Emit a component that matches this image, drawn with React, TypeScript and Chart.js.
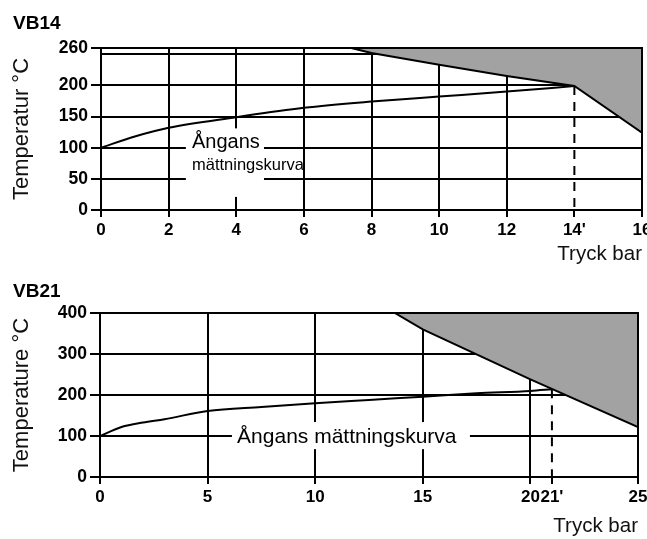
import React, { useEffect, useRef } from 'react';
import { Chart, registerables } from 'chart.js';

Chart.register(...registerables);

const FONT = "'Liberation Sans', Arial, Helvetica, sans-serif";

// ---------- VB14 data ----------
const vb14XTicks = [0, 2, 4, 6, 8, 10, 12, 14, 16];
const vb14XLabels = ['0', '2', '4', '6', '8', '10', '12', "14'", '16'];
const vb14YTicks = [0, 50, 100, 150, 200, 250, 260];
const vb14YLabels = ['0', '50', '100', '150', '200', '', '260'];
const vb14SatX = [0, 1, 2, 4, 6, 8, 10, 12, 14];
const vb14SatY = [100, 118, 132, 149, 164, 174, 182, 190, 199];
const vb14LimitX = [7.4, 8, 10, 12, 14, 16];
const vb14LimitY = [260, 252, 233, 215, 199, 124];
const vb14MarkerX = 14;
const vb14MarkerTop = 199;

// ---------- VB21 data ----------
const vb21XTicks = [0, 5, 10, 15, 20, 21, 25];
const vb21XLabels = ['0', '5', '10', '15', '20', "21'", '25'];
const vb21YTicks = [0, 100, 200, 300, 400];
const vb21YLabels = ['0', '100', '200', '300', '400'];
const vb21SatX = [0, 1, 2, 3, 5, 7.5, 10, 12.5, 15, 17.5, 20, 21];
const vb21SatY = [100, 122, 133, 141, 161, 171, 180, 188, 196, 204, 210, 214];
const vb21LimitX = [13.7, 15, 20, 25];
const vb21LimitY = [400, 360, 238, 122];
const vb21MarkerX = 21;
const vb21MarkerTop = 214;

type LabelLine = { text: string; x: number; y: number; font: string };
type PanelCfg = {
  panel: string;
  yTitle: string;
  xMax: number;
  yMax: number;
  xTicks: number[];
  xLabels: string[];
  yTicks: number[];
  yLabels: string[];
  satX: number[];
  satY: number[];
  limitX: number[];
  limitY: number[];
  markerX: number;
  markerTop: number;
  hiddenYTicks: number[];
  padTop: number;
  padRight: number;
  yAxisWidth: number;
  xAxisHeight: number;
  xTitlePadBottom: number;
  box: { x0: number; x1: number; y0: number; y1: number };
  lines: LabelLine[];
};

const zip = (xs: number[], ys: number[]) => xs.map((x, i) => ({ x, y: ys[i] }));

function makeChart(canvas: HTMLCanvasElement, cfg: PanelCfg) {
  const panelPlugin = {
    id: 'panelLabel',
    afterDraw(chart: any) {
      const ctx = chart.ctx;
      ctx.save();
      ctx.fillStyle = '#000';
      ctx.font = `bold 19px ${FONT}`;
      ctx.textAlign = 'left';
      ctx.textBaseline = 'alphabetic';
      ctx.fillText(cfg.panel, 13, 29);
      ctx.restore();
    },
  };
  const labelPlugin = {
    id: 'curveLabel',
    beforeDatasetsDraw(chart: any) {
      const { ctx, scales } = chart;
      const xs = scales.x;
      const ys = scales.y;
      ctx.save();
      const bx0 = xs.getPixelForValue(cfg.box.x0);
      const bx1 = xs.getPixelForValue(cfg.box.x1);
      const by0 = ys.getPixelForValue(cfg.box.y0);
      const by1 = ys.getPixelForValue(cfg.box.y1);
      ctx.fillStyle = '#fff';
      ctx.fillRect(bx0, by0, bx1 - bx0, by1 - by0);
      ctx.fillStyle = '#000';
      ctx.textAlign = 'left';
      ctx.textBaseline = 'alphabetic';
      for (const l of cfg.lines) {
        ctx.font = `${l.font} ${FONT}`;
        ctx.fillText(l.text, xs.getPixelForValue(l.x), ys.getPixelForValue(l.y));
      }
      ctx.restore();
    },
  };
  const framePlugin = {
    id: 'frame',
    afterDatasetsDraw(chart: any) {
      const { ctx, chartArea } = chart;
      ctx.save();
      ctx.strokeStyle = '#000';
      ctx.lineWidth = 2;
      ctx.strokeRect(chartArea.left, chartArea.top, chartArea.right - chartArea.left, chartArea.bottom - chartArea.top);
      ctx.restore();
    },
  };

  return new Chart(canvas, {
    type: 'line',
    data: {
      datasets: [
        {
          data: zip(cfg.satX, cfg.satY),
          borderColor: '#000',
          borderWidth: 2,
          pointRadius: 0,
          fill: false,
          cubicInterpolationMode: 'monotone',
        },
        {
          data: [
            { x: cfg.markerX, y: cfg.markerTop },
            { x: cfg.markerX, y: 0 },
          ],
          borderColor: '#000',
          borderWidth: 2,
          borderDash: [9, 7],
          pointRadius: 0,
          fill: false,
        },
        {
          data: zip(cfg.limitX, cfg.limitY),
          borderColor: '#000',
          borderWidth: 2,
          backgroundColor: '#a2a2a2',
          pointRadius: 0,
          fill: 'end',
        },
      ],
    },
    options: {
      responsive: false,
      animation: false,
      devicePixelRatio: 1,
      events: [],
      layout: { padding: { left: 0, top: cfg.padTop, right: cfg.padRight, bottom: 0 } },
      plugins: {
        legend: { display: false },
        tooltip: { enabled: false },
        title: { display: false },
      },
      scales: {
        x: {
          type: 'linear',
          min: 0,
          max: cfg.xMax,
          afterBuildTicks: (s: any) => {
            s.ticks = cfg.xTicks.map((v) => ({ value: v }));
          },
          afterFit: (s: any) => {
            s.height = cfg.xAxisHeight;
            s.paddingLeft = 0;
            s.paddingRight = 0;
          },
          ticks: {
            autoSkip: false,
            maxRotation: 0,
            padding: 3,
            color: '#000',
            font: { family: FONT, size: 17, weight: 'bold' },
            callback: (_v: any, i: number) => cfg.xLabels[i],
          },
          grid: {
            color: (c: any) => (c.tick && c.tick.value === cfg.markerX ? 'rgba(0,0,0,0)' : '#000'),
            lineWidth: 2,
            tickLength: 7,
            tickColor: '#000',
            tickWidth: 2,
          },
          border: { color: '#000', width: 2 },
          title: {
            display: true,
            text: 'Tryck bar',
            align: 'end',
            color: '#111',
            font: { family: FONT, size: 20.5 },
            padding: { top: 0, bottom: cfg.xTitlePadBottom },
          },
        },
        y: {
          type: 'linear',
          min: 0,
          max: cfg.yMax,
          afterBuildTicks: (s: any) => {
            s.ticks = cfg.yTicks.map((v) => ({ value: v }));
          },
          afterFit: (s: any) => {
            s.width = cfg.yAxisWidth;
            s.paddingTop = 0;
            s.paddingBottom = 0;
          },
          ticks: {
            padding: 3,
            color: '#000',
            font: { family: FONT, size: 17.5, weight: 'bold' },
            callback: (_v: any, i: number) => cfg.yLabels[i],
          },
          grid: {
            color: '#000',
            lineWidth: 2,
            tickLength: 10,
            tickColor: (c: any) => (c.tick && cfg.hiddenYTicks.includes(c.tick.value) ? 'rgba(0,0,0,0)' : '#000'),
            tickWidth: 2,
          },
          border: { color: '#000', width: 2 },
          title: {
            display: true,
            text: cfg.yTitle,
            color: '#111',
            font: { family: FONT, size: 22 },
            padding: { top: 9, bottom: 0 },
          },
        },
      },
    } as any,
    plugins: [labelPlugin, framePlugin, panelPlugin],
  } as any);
}

const vb14Cfg: PanelCfg = {
  panel: 'VB14',
  yTitle: 'Temperatur °C',
  xMax: 16,
  yMax: 260,
  xTicks: vb14XTicks,
  xLabels: vb14XLabels,
  yTicks: vb14YTicks,
  yLabels: vb14YLabels,
  satX: vb14SatX,
  satY: vb14SatY,
  limitX: vb14LimitX,
  limitY: vb14LimitY,
  markerX: vb14MarkerX,
  markerTop: vb14MarkerTop,
  hiddenYTicks: [250],
  padTop: 48,
  padRight: 5,
  yAxisWidth: 101,
  xAxisHeight: 58,
  xTitlePadBottom: 1,
  box: { x0: 2.51, x1: 4.82, y0: 131, y1: 21 },
  lines: [
    { text: 'Ångans', x: 2.69, y: 99.5, font: '20px' },
    { text: 'mättningskurva', x: 2.69, y: 64, font: '16.5px' },
  ],
};

const vb21Cfg: PanelCfg = {
  panel: 'VB21',
  yTitle: 'Temperature °C',
  xMax: 25,
  yMax: 400,
  xTicks: vb21XTicks,
  xLabels: vb21XLabels,
  yTicks: vb21YTicks,
  yLabels: vb21YLabels,
  satX: vb21SatX,
  satY: vb21SatY,
  limitX: vb21LimitX,
  limitY: vb21LimitY,
  markerX: vb21MarkerX,
  markerTop: vb21MarkerTop,
  hiddenYTicks: [],
  padTop: 45,
  padRight: 9,
  yAxisWidth: 100,
  xAxisHeight: 62,
  xTitlePadBottom: 0,
  box: { x0: 6.13, x1: 17.19, y0: 134, y1: 68 },
  lines: [{ text: 'Ångans mättningskurva', x: 6.37, y: 83, font: '21px' }],
};

export default function App() {
  const topRef = useRef<HTMLCanvasElement | null>(null);
  const botRef = useRef<HTMLCanvasElement | null>(null);

  useEffect(() => {
    const charts: Chart[] = [];
    if (topRef.current) charts.push(makeChart(topRef.current, vb14Cfg));
    if (botRef.current) charts.push(makeChart(botRef.current, vb21Cfg));
    return () => charts.forEach((c) => c.destroy());
  }, []);

  return (
    <div style={{ position: 'absolute', left: 0, top: 0, width: 647, height: 539, background: '#fff' }}>
      <canvas ref={topRef} width={647} height={268} style={{ position: 'absolute', left: 0, top: 0, display: 'block' }} />
      <canvas ref={botRef} width={647} height={271} style={{ position: 'absolute', left: 0, top: 268, display: 'block' }} />
    </div>
  );
}
